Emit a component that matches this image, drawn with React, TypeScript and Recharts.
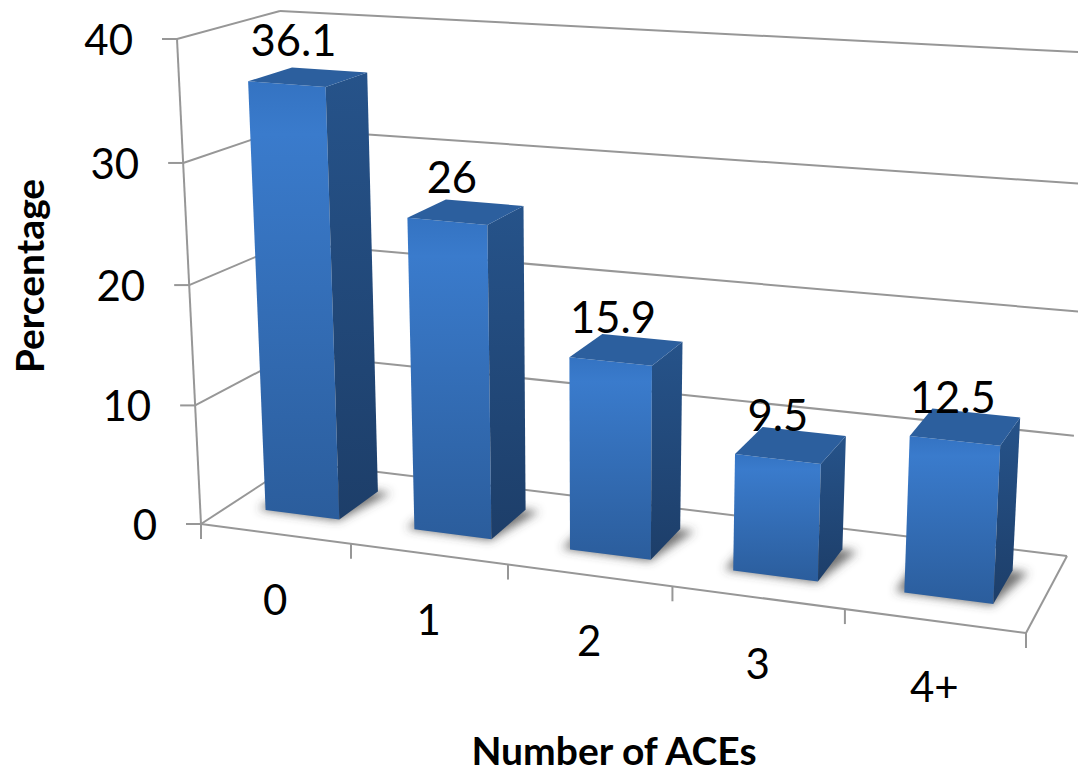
import { BarChart, Bar, XAxis, YAxis, CartesianGrid, LabelList } from 'recharts';

const categories = ['0', '1', '2', '3', '4+'];
const percentages = [36.1, 26, 15.9, 9.5, 12.5];
const valueTicks = [0, 10, 20, 30, 40];

const tableData = categories.map((name, i) => ({ name, value: percentages[i] }));

const WIDTH = 1078;
const HEIGHT = 774;
const MARGIN = 40;
const PLOT_W = WIDTH - MARGIN * 2;
const PLOT_H = HEIGHT - MARGIN * 2;

const FONT = 'Lato, sans-serif';
const GRID = '#979797';

// corners of the 3D box the plot is projected on to
const FLOOR_FL = [201, 524];
const FLOOR_FR = [1026, 633];
const FLOOR_BL = [296, 462];
const FLOOR_BR = [1067, 556];
const TOP_FL = [177, 39];
const TOP_FR = [1050, 102];
const TOP_BL = [280, 11];
const TOP_BR = [1096, 53];

const X_PERSPECTIVE = 1.125;
// height foreshortening grows a little towards the back wall
const Y_PERSPECTIVE_FRONT = 1.03;
const Y_PERSPECTIVE_DEPTH = 0.03;

// depth range of a bar inside the box
const BAR_FRONT = 0.3;
const BAR_BACK = 0.74;

const lerp = (a: number[], b: number[], t: number) => [a[0] + (b[0] - a[0]) * t, a[1] + (b[1] - a[1]) * t];

// u: along categories, v: up the value axis, z: front to back (all 0..1)
const project = (u: number, v: number, z: number) => {
  const uu = u / (u + (1 - u) * X_PERSPECTIVE);
  const vv = v / (v + (1 - v) * (Y_PERSPECTIVE_FRONT + Y_PERSPECTIVE_DEPTH * z));
  const floor = lerp(lerp(FLOOR_FL, FLOOR_FR, uu), lerp(FLOOR_BL, FLOOR_BR, uu), z);
  const top = lerp(lerp(TOP_FL, TOP_FR, uu), lerp(TOP_BL, TOP_BR, uu), z);
  return lerp(floor, top, vv);
};

const toU = (x: number) => (x - MARGIN) / PLOT_W;
const toV = (y: number) => (MARGIN + PLOT_H - y) / PLOT_H;
const pts = (list: number[][]) => list.map((p) => `${p[0].toFixed(1)},${p[1].toFixed(1)}`).join(' ');

const Segment = ({ a, b }: { a: number[]; b: number[] }) => (
  <line x1={a[0]} y1={a[1]} x2={b[0]} y2={b[1]} stroke={GRID} strokeWidth={2} />
);

// each horizontal grid line runs along the left wall and then the back wall
const WallLine = (props: any) => {
  const v = toV(props.y1);
  return (
    <g key={props.key ?? `wall-${props.y1}`}>
      <Segment a={project(0, v, 0)} b={project(0, v, 1)} />
      <Segment a={project(0, v, 1)} b={project(1, v, 1)} />
    </g>
  );
};

const Box3D = (props: any) => {
  const { x, y, width, height } = props;
  const u0 = toU(x);
  const u1 = toU(x + width);
  const v = toV(y);
  const v0 = toV(y + height);
  const f = BAR_FRONT;
  const b = BAR_BACK;
  const shadow = [project(u0 - 0.01, 0, f), project(u1, 0, f - 0.015), project(u1 + 0.018, 0, b), project(u0 - 0.01, 0, b)];
  const front = [project(u0, v, f), project(u1, v, f), project(u1, v0, f), project(u0, v0, f)];
  const side = [project(u1, v, f), project(u1, v, b), project(u1, v0, b), project(u1, v0, f)];
  const top = [project(u0, v, f), project(u0, v, b), project(u1, v, b), project(u1, v, f)];
  return (
    <g>
      <polygon points={pts(shadow)} fill="#444444" fillOpacity={0.75} filter="url(#barShadow)" />
      <polygon points={pts(front)} fill="url(#frontFace)" />
      <polygon points={pts(side)} fill="url(#sideFace)" />
      <polygon points={pts(top)} fill="#2c5f9e" />
    </g>
  );
};

const ValueLabel = (props: any) => {
  const { x, y, width, value } = props;
  const u = toU(x + width / 2);
  const p = project(u, toV(y), BAR_FRONT);
  return (
    <text x={p[0] + 8 - 11 * u} y={p[1] - 28} textAnchor="middle" fontFamily={FONT} fontSize={43.5} fill="#000">
      {value}
    </text>
  );
};

const CategoryTick = (props: any) => {
  const { x, payload, index } = props;
  const u = toU(x);
  const step = 1 / categories.length;
  const anchor = project(u, 0, 0);
  const left = project(u - step / 2, 0, 0);
  const right = project(u + step / 2, 0, 0);
  return (
    <g>
      <Segment a={left} b={[left[0], left[1] + 15]} />
      {index === categories.length - 1 && <Segment a={right} b={[right[0], right[1] + 15]} />}
      <text x={anchor[0]} y={anchor[1] + 65} textAnchor="middle" dominantBaseline="central" fontFamily={FONT} fontSize={42} fill="#000">
        {payload.value}
      </text>
    </g>
  );
};

const ValueTick = (props: any) => {
  const { y, payload } = props;
  const p = project(0, toV(y), 0);
  return (
    <g>
      <Segment a={p} b={[p[0] - 15, p[1]]} />
      <text x={p[0] - 44} y={p[1]} textAnchor="end" dominantBaseline="central" fontFamily={FONT} fontSize={42} fill="#000">
        {payload.value}
      </text>
    </g>
  );
};

export default function App() {
  return (
    <div style={{ position: 'absolute', left: 0, top: 0, width: WIDTH, height: HEIGHT, overflow: 'hidden' }}>
      <BarChart
        width={WIDTH}
        height={HEIGHT}
        data={tableData}
        margin={{ top: MARGIN, right: MARGIN, bottom: MARGIN - 1, left: MARGIN - 1 }}
        barCategoryGap="25%"
      >
        <defs>
          <linearGradient id="frontFace" x1="0" y1="0" x2="0" y2="1">
            <stop offset="0" stopColor="#3473c2" />
            <stop offset="0.12" stopColor="#3a7bcc" />
            <stop offset="1" stopColor="#2b5d9c" />
          </linearGradient>
          <linearGradient id="sideFace" x1="0" y1="0" x2="0" y2="1">
            <stop offset="0" stopColor="#26538a" />
            <stop offset="1" stopColor="#1d3e69" />
          </linearGradient>
          <filter id="barShadow" x="-30%" y="-30%" width="160%" height="160%">
            <feGaussianBlur stdDeviation="5" />
          </filter>
        </defs>
        <CartesianGrid vertical={false} horizontal={WallLine} />
        <XAxis dataKey="name" height={1} axisLine={false} tickLine={false} interval={0} tick={CategoryTick} />
        <YAxis domain={[0, 40]} ticks={valueTicks} width={1} axisLine={false} tickLine={false} interval={0} tick={ValueTick} />
        {/* outer frame of the box */}
        <Segment a={project(0, 0, 0)} b={project(0, 1, 0)} />
        <Segment a={project(0, 0, 0)} b={project(1, 0, 0)} />
        <Segment a={project(1, 0, 0)} b={project(1, 0, 1)} />
        <Bar dataKey="value" shape={Box3D} isAnimationActive={false}>
          <LabelList dataKey="value" content={ValueLabel} />
        </Bar>
        <text x={29} y={276} transform="rotate(-90 29 276)" textAnchor="middle" dominantBaseline="central" fontFamily={FONT} fontWeight={700} fontSize={39} fill="#000">
          Percentage
        </text>
        <text x={614} y={765} textAnchor="middle" fontFamily={FONT} fontWeight={700} fontSize={39} fill="#000">
          Number of ACEs
        </text>
      </BarChart>
    </div>
  );
}
